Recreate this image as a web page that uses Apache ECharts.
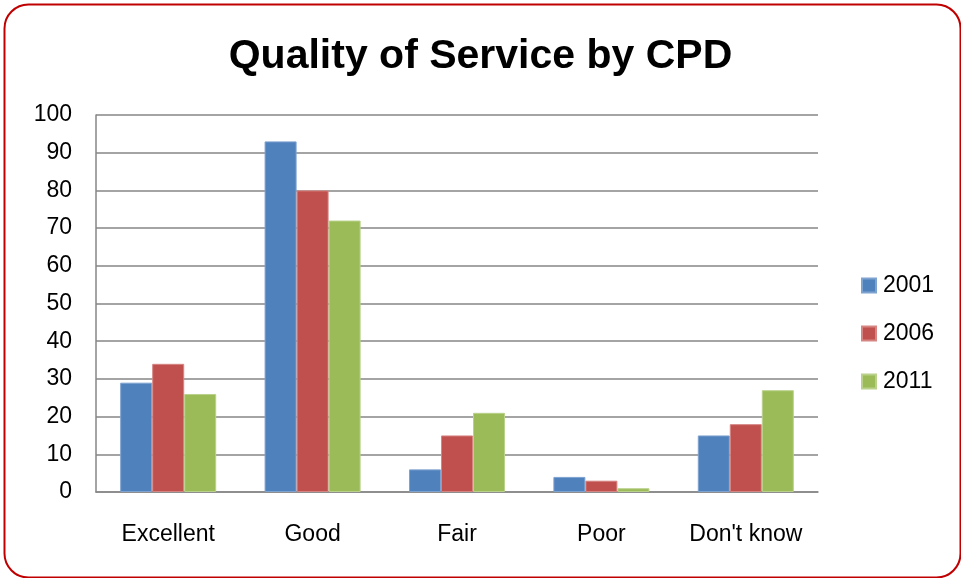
<!DOCTYPE html>
<html><head><meta charset="utf-8">
<script src="https://cdn.jsdelivr.net/npm/echarts@6/dist/echarts.min.js"></script>
<style>html,body{margin:0;padding:0;background:#fff}#c{width:961px;height:578px}</style>
</head><body><div id="c"></div>
<script>
const categories = ["Excellent", "Good", "Fair", "Poor", "Don't know"];
const s2001 = [29, 93, 6, 4, 15];
const s2006 = [34, 80, 15, 3, 18];
const s2011 = [26, 72, 21, 1, 27];
const seriesNames = ["2001", "2006", "2011"];
const colors = ["#4f81bd", "#c0504d", "#9bbb59"];
const borders = ["#7fa3d0", "#d68583", "#b9d18a"];
const font = "Liberation Sans";
const chart = echarts.init(document.getElementById('c'), null, {renderer: 'canvas'});
const data = [s2001, s2006, s2011];
chart.setOption({
  animation: false,
  backgroundColor: '#fff',
  title: {text: 'Quality of Service by CPD', left: 'center', top: 31,
    textStyle: {fontFamily: font, fontWeight: 'bold', fontSize: 41, color: '#000'}},
  graphic: [{type: 'rect', left: 2, top: 2, shape: {width: 956, height: 573, r: 24},
    style: {fill: 'none', stroke: '#c00000', lineWidth: 2}, z: 100}],
  legend: {orient: 'vertical', left: 856, top: 269, itemWidth: 14, itemHeight: 14, itemGap: 25,
    data: seriesNames, icon: 'rect',
    textStyle: {fontFamily: font, fontSize: 23, color: '#000', padding: [0,0,0,2]}},
  grid: {left: 96, right: 143, top: 115, bottom: 86},
  xAxis: {type: 'category', data: categories,
    axisLine: {lineStyle: {color: '#868686', width: 1.5}},
    axisTick: {show: false},
    axisLabel: {fontFamily: font, fontSize: 23, color: '#000', margin: 31, interval: 0, hideOverlap: false}},
  yAxis: {type: 'value', min: 0, max: 100, interval: 10,
    axisLine: {show: true, lineStyle: {color: '#868686', width: 1.5}},
    axisTick: {show: false},
    splitLine: {lineStyle: {color: '#868686', width: 1.5}},
    axisLabel: {fontFamily: font, fontSize: 23, color: '#000', margin: 24}},
  series: seriesNames.map((n, i) => ({
    name: n, type: 'bar', data: data[i], barGap: '0%', barCategoryGap: '33.5%',
    itemStyle: {color: colors[i], borderColor: borders[i], borderWidth: 1}
  }))
});
</script></body></html>
